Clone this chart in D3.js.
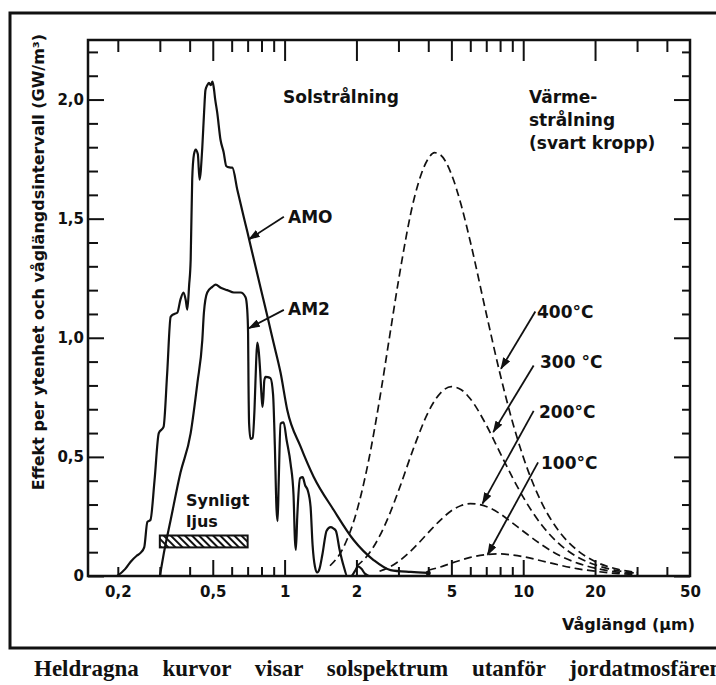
<!DOCTYPE html>
<html lang="sv">
<head>
<meta charset="UTF-8">
<title>Solstrålning och värmestrålning</title>
<script src="https://cdn.jsdelivr.net/npm/d3@7"></script>
<style>
  body { margin: 0; background: #fff; }
  svg { display: block; }
  text { font-family: "DejaVu Sans", sans-serif; font-weight: bold; fill: #111; }
</style>
</head>
<body>
<svg width="716" height="685"></svg>
<script>
// Solspektrum utanför atmosfären (AM0) och vid markytan (AM2), GW/m3 per µm
var am0Wl = [0.199, 0.215, 0.226, 0.24, 0.249, 0.258, 0.266, 0.274, 0.285, 0.297, 0.311, 0.322, 0.333, 0.345, 0.355, 0.366, 0.377, 0.385, 0.391, 0.398, 0.404, 0.41, 0.417, 0.424, 0.433, 0.44, 0.452, 0.46, 0.466, 0.474, 0.482, 0.49, 0.498, 0.504, 0.512, 0.522, 0.539, 0.555, 0.57, 0.587, 0.604, 0.634, 0.673, 0.698, 0.732, 0.793, 0.846, 0.899, 0.962, 1.026, 1.167, 1.323, 1.606, 1.947, 2.36, 2.78, 3.38, 4.0];
var am0Val = [0, 0.03, 0.059, 0.085, 0.097, 0.12, 0.227, 0.235, 0.40, 0.60, 0.626, 0.85, 1.088, 1.10, 1.105, 1.16, 1.19, 1.16, 1.118, 1.22, 1.328, 1.664, 1.77, 1.79, 1.77, 1.664, 1.80, 1.95, 2.04, 2.06, 2.07, 2.06, 2.075, 2.055, 2.0, 1.945, 1.83, 1.78, 1.72, 1.715, 1.714, 1.62, 1.51, 1.445, 1.357, 1.21, 1.092, 0.979, 0.853, 0.697, 0.543, 0.417, 0.277, 0.151, 0.067, 0.025, 0.017, 0.013];

var am2Wl = [0.30, 0.312, 0.333, 0.366, 0.404, 0.431, 0.452, 0.459, 0.474, 0.498, 0.514, 0.54, 0.575, 0.613, 0.654, 0.686, 0.697, 0.703, 0.706, 0.71, 0.72, 0.735, 0.748, 0.76, 0.768, 0.778, 0.79, 0.80, 0.808, 0.815, 0.822, 0.832, 0.85, 0.873, 0.895, 0.91, 0.925, 0.935, 0.945, 0.962, 0.99, 1.02, 1.06, 1.09, 1.105, 1.115, 1.13, 1.16, 1.19, 1.22, 1.25, 1.285, 1.31, 1.34, 1.37, 1.40, 1.44, 1.50, 1.56, 1.60, 1.64, 1.70, 1.77, 1.83, 1.90, 1.97, 2.03, 2.10, 2.17, 2.25];
var am2Val = [0, 0.097, 0.235, 0.433, 0.60, 0.81, 0.99, 1.105, 1.19, 1.214, 1.223, 1.21, 1.20, 1.19, 1.19, 1.17, 1.12, 1.02, 0.80, 0.64, 0.575, 0.58, 0.70, 0.90, 0.98, 0.95, 0.86, 0.76, 0.71, 0.75, 0.82, 0.836, 0.835, 0.83, 0.76, 0.55, 0.28, 0.23, 0.40, 0.64, 0.645, 0.57, 0.47, 0.34, 0.15, 0.11, 0.25, 0.41, 0.415, 0.38, 0.36, 0.29, 0.13, 0.04, 0.015, 0.03, 0.09, 0.19, 0.205, 0.20, 0.19, 0.11, 0.04, 0, 0, 0.02, 0.04, 0.03, 0.01, 0];

// Svartkroppsstrålning
var bb400Wl = [1.55, 1.75, 2, 2.25, 2.5, 2.75, 3, 3.5, 4, 4.25, 4.5, 5, 5.5, 6, 7, 8, 9, 10, 12, 14, 17, 20, 25, 30];
var bb400Val = [0.043, 0.113, 0.267, 0.485, 0.740, 1.001, 1.239, 1.589, 1.752, 1.777, 1.768, 1.687, 1.556, 1.404, 1.102, 0.848, 0.650, 0.500, 0.304, 0.193, 0.105, 0.061, 0.028, 0.015];
var bb300Wl = [2, 2.25, 2.5, 2.75, 3, 3.5, 4, 4.5, 5, 5.5, 6, 7, 8, 9, 10, 12, 14, 17, 20, 25, 30];
var bb300Val = [0.041, 0.092, 0.167, 0.258, 0.357, 0.546, 0.688, 0.768, 0.795, 0.782, 0.744, 0.634, 0.517, 0.415, 0.331, 0.212, 0.139, 0.078, 0.047, 0.022, 0.012];
var bb200Wl = [2.5, 2.75, 3, 3.5, 4, 4.5, 5, 5.5, 6, 7, 8, 9, 10, 12, 14, 17, 20, 25, 30];
var bb200Val = [0.020, 0.037, 0.061, 0.120, 0.182, 0.235, 0.274, 0.296, 0.304, 0.292, 0.261, 0.223, 0.188, 0.130, 0.089, 0.053, 0.033, 0.016, 0.009];
var bb100Wl = [4, 4.5, 5, 5.5, 6, 7, 8, 9, 10, 12, 14, 17, 20, 25, 30];
var bb100Val = [0.024, 0.038, 0.054, 0.067, 0.078, 0.090, 0.093, 0.088, 0.081, 0.063, 0.047, 0.030, 0.020, 0.010, 0.006];

// axlar
var xLabelTicks = [0.2, 0.5, 1, 2, 5, 10, 20, 50];
var xMajorTicks = [0.5, 1, 2, 5, 10, 20];
var xMinorTicks = [0.2, 0.3, 0.4, 0.6, 0.7, 0.8, 0.9, 3, 4, 6, 7, 8, 9, 30, 40];
var yLabelTicks = [0, 0.5, 1, 1.5, 2];
var yMinorTicks = [0.1, 0.2, 0.3, 0.4, 0.6, 0.7, 0.8, 0.9, 1.1, 1.2, 1.3, 1.4, 1.6, 1.7, 1.8, 1.9, 2.1, 2.2];

// synligt ljus (µm)
var visibleBand = [0.3, 0.7];

// pilar: [etikett, från λ, från värde, till λ, till värde]
var arrows = [
  ['AMO', 0.993, 1.508, 0.708, 1.413],
  ['AM2', 0.993, 1.117, 0.708, 1.040],
  ['400°C', 11.24, 1.110, 8.07, 0.870],
  ['300 °C', 11.06, 0.884, 7.49, 0.604],
  ['200°C', 11.06, 0.693, 6.75, 0.304],
  ['100°C', 11.54, 0.477, 7.09, 0.089]
];

var svg = d3.select('svg');
var pL = 88, pR = 690, pT = 40, pB = 576;

var x = d3.scaleLog().domain([0.15, 50]).range([pL, pR]);
var y = d3.scaleLinear().domain([0, 2.25]).range([pB, pT]);

var defs = svg.append('defs');
defs.append('pattern')
  .attr('id', 'hatch')
  .attr('patternUnits', 'userSpaceOnUse')
  .attr('width', 5).attr('height', 5)
  .attr('patternTransform', 'rotate(-45)')
  .append('line')
  .attr('x1', 2).attr('y1', 0).attr('x2', 2).attr('y2', 5)
  .attr('stroke', '#111').attr('stroke-width', 2);

defs.append('marker')
  .attr('id', 'head')
  .attr('markerUnits', 'userSpaceOnUse')
  .attr('viewBox', '0 0 12 8')
  .attr('refX', 11).attr('refY', 4)
  .attr('markerWidth', 12).attr('markerHeight', 8)
  .attr('orient', 'auto')
  .append('path').attr('d', 'M0,0 L12,4 L0,8 Z').attr('fill', '#111');

// yttre ram
svg.append('path')
  .attr('d', 'M716,13 L10,13 L10,648 L716,648')
  .attr('fill', 'none').attr('stroke', '#111').attr('stroke-width', 3);

// tickmarks
function ticks(axis, tr, vals, size) {
  var g = svg.append('g').attr('transform', tr)
    .call(axis.tickValues(vals).tickSize(size).tickFormat(''));
  g.select('.domain').remove();
  g.selectAll('line').attr('stroke', '#111').attr('stroke-width', 2);
  return g;
}
ticks(d3.axisBottom(x), 'translate(0,' + pB + ')', xMinorTicks, -9);
ticks(d3.axisBottom(x), 'translate(0,' + pB + ')', xMajorTicks, -16);
ticks(d3.axisTop(x), 'translate(0,' + pT + ')', xMinorTicks, -12);
ticks(d3.axisTop(x), 'translate(0,' + pT + ')', xMajorTicks, -21);
ticks(d3.axisLeft(y), 'translate(' + pL + ',0)', yMinorTicks, -10);
ticks(d3.axisLeft(y), 'translate(' + pL + ',0)', yLabelTicks, -16);
ticks(d3.axisRight(y), 'translate(' + pR + ',0)', yMinorTicks, -8);
ticks(d3.axisRight(y), 'translate(' + pR + ',0)', yLabelTicks, -16);

// tick labels
var xl = svg.append('g').attr('transform', 'translate(0,' + pB + ')')
  .call(d3.axisBottom(x).tickValues(xLabelTicks).tickSize(0).tickPadding(10)
    .tickFormat(function (d) { return String(d).replace('.', ','); }));
xl.select('.domain').remove();
var yl = svg.append('g').attr('transform', 'translate(' + pL + ',0)')
  .call(d3.axisLeft(y).tickValues(yLabelTicks).tickSize(0).tickPadding(4)
    .tickFormat(function (d) { return d === 0 ? '0' : d3.format('.1f')(d).replace('.', ','); }));
yl.select('.domain').remove();
svg.selectAll('.tick text')
  .attr('font-family', '"DejaVu Sans", sans-serif')
  .attr('font-weight', 'bold')
  .attr('font-size', 15)
  .attr('fill', '#111');

// plot-ram
svg.append('rect')
  .attr('x', pL).attr('y', pT)
  .attr('width', pR - pL).attr('height', pB - pT)
  .attr('fill', 'none').attr('stroke', '#111').attr('stroke-width', 2.5);

// kurvor
var line = d3.line()
  .x(function (d) { return x(d[0]); })
  .y(function (d) { return y(d[1]); })
  .curve(d3.curveMonotoneX);

function pairs(wl, val) { return wl.map(function (w, i) { return [w, val[i]]; }); }

svg.append('path').datum(pairs(am0Wl, am0Val))
  .attr('d', line).attr('fill', 'none').attr('stroke', '#111').attr('stroke-width', 2.2);
svg.append('path').datum(pairs(am2Wl, am2Val))
  .attr('d', line).attr('fill', 'none').attr('stroke', '#111').attr('stroke-width', 2.2);

[[bb400Wl, bb400Val], [bb300Wl, bb300Val], [bb200Wl, bb200Val], [bb100Wl, bb100Val]].forEach(function (s) {
  svg.append('path').datum(pairs(s[0], s[1]))
    .attr('d', line).attr('fill', 'none').attr('stroke', '#111')
    .attr('stroke-width', 1.7).attr('stroke-dasharray', '8,4.5');
});

// liten punkt där AM0 slutar vid 4 µm
svg.append('circle')
  .attr('cx', x(am0Wl[am0Wl.length - 1])).attr('cy', y(am0Val[am0Val.length - 1]))
  .attr('r', 2.5).attr('fill', '#111');

// synligt ljus
svg.append('rect')
  .attr('x', x(visibleBand[0])).attr('y', y(0.17))
  .attr('width', x(visibleBand[1]) - x(visibleBand[0]))
  .attr('height', y(0.12) - y(0.17))
  .attr('fill', 'url(#hatch)').attr('stroke', '#111').attr('stroke-width', 2);
svg.append('text').attr('x', 186).attr('y', 506).attr('font-size', 16).text('Synligt');
svg.append('text').attr('x', 186).attr('y', 527).attr('font-size', 16).text('ljus');

// pilar
svg.selectAll('.arrow').data(arrows).enter().append('line')
  .attr('class', 'arrow')
  .attr('x1', function (d) { return x(d[1]); })
  .attr('y1', function (d) { return y(d[2]); })
  .attr('x2', function (d) { return x(d[3]); })
  .attr('y2', function (d) { return y(d[4]); })
  .attr('stroke', '#111').attr('stroke-width', 1.8)
  .attr('marker-end', 'url(#head)');

// texter
var labels = [
  ['AMO', 288, 223], ['AM2', 288, 315],
  ['400°C', 537, 318], ['300 °C', 540, 368], ['200°C', 539, 418], ['100°C', 541, 469],
  ['Solstrålning', 283, 103], ['Värme-', 529, 103], ['strålning', 529, 126], ['(svart kropp)', 529, 149]
];
svg.selectAll('.lab').data(labels).enter().append('text')
  .attr('class', 'lab')
  .attr('x', function (d) { return d[1]; })
  .attr('y', function (d) { return d[2]; })
  .attr('font-size', 17)
  .text(function (d) { return d[0]; });

svg.append('text')
  .attr('transform', 'translate(44,262) rotate(-90)')
  .attr('text-anchor', 'middle').attr('font-size', 16)
  .text('Effekt per ytenhet och våglängdsintervall (GW/m³)');

svg.append('text')
  .attr('x', 695).attr('y', 630).attr('text-anchor', 'end').attr('font-size', 16)
  .text('Våglängd (µm)');

// bildtext (justerad rad, utanför bilden till höger)
svg.append('text').attr('x', 34).attr('y', 676)
  .style('font-family', '"Liberation Serif", "Times New Roman", serif')
  .style('word-spacing', '18px')
  .attr('font-size', 23)
  .text('Heldragna kurvor visar solspektrum utanför jordatmosfären');
</script>
</body>
</html>
